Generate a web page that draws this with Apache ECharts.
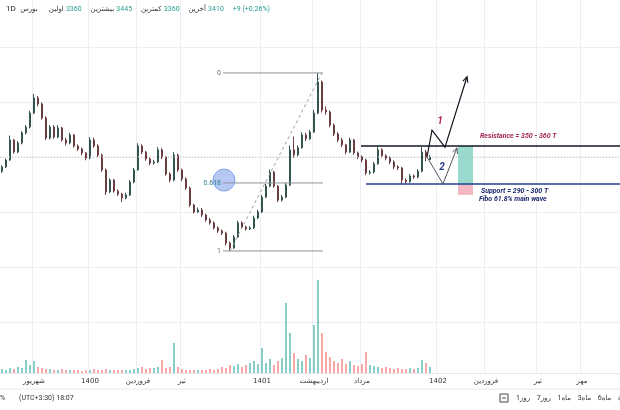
<!DOCTYPE html>
<html><head><meta charset="utf-8">
<script src="https://cdn.jsdelivr.net/npm/echarts@6/dist/echarts.min.js"></script>
<style>html,body{margin:0;padding:0;background:#fff}#c{width:620px;height:410px}</style>
</head><body><div id="c"></div>
<script>
// ---- data ----
// daily candles [open, close, low, high] (rial)
const candles = [
[3150,3230,3120,3260],[3230,3355,3210,3380],[3355,3720,3340,3800],[3720,3500,3470,3740],[3500,3665,3480,3700],
[3665,3850,3640,3880],[3850,3955,3820,3990],[3955,4210,3930,4250],[4210,4485,4190,4560],[4485,4375,4330,4520],
[4375,4120,4090,4400],[4120,3755,3720,4150],[3755,3955,3730,3990],[3955,3775,3740,3990],[3775,3940,3750,3990],
[3940,3720,3690,3960],[3720,3665,3620,3760],[3665,3810,3640,3850],[3810,3610,3580,3830],[3610,3555,3520,3640],
[3555,3485,3440,3580],[3485,3390,3350,3500],[3390,3720,3370,3775],[3720,3610,3580,3760],[3610,3445,3410,3640],
[3445,3175,3140,3470],[3175,2775,2720,3200],[2775,2990,2750,3020],[2990,2790,2760,3010],[2790,2735,2700,2820],
[2735,2665,2590,2760],[2665,2720,2640,2760],[2720,2955,2700,2990],[2955,3175,2930,3210],[3175,3610,3160,3660],
[3610,3500,3460,3640],[3500,3375,3340,3520],[3375,3300,3260,3400],[3300,3320,3270,3360],[3320,3540,3300,3590],
[3540,3410,3370,3570],[3410,3100,3070,3430],[3100,2990,2950,3130],[2990,3445,2970,3500],[3445,3175,3140,3470],
[3175,3010,2970,3200],[3010,2845,2810,3040],[2845,2535,2500,2870],[2535,2410,2380,2560],[2410,2445,2390,2490],
[2445,2355,2320,2480],[2355,2265,2230,2380],[2265,2210,2180,2300],[2210,2120,2090,2240],[2120,2065,2030,2150],
[2065,2025,1990,2090],[2025,1845,1800,2050],[1845,1755,1700,1870],[1755,1955,1740,1990],[1955,2210,1940,2250],
[2210,2135,2100,2240],[2135,2100,2070,2160],[2100,2120,2080,2150],[2120,2300,2100,2340],[2300,2410,2280,2450],
[2410,2680,2390,2720],[2680,2880,2660,2920],[2880,3135,2860,3180],[3135,2880,2850,3160],[2880,2625,2590,2900],
[2625,2680,2600,2720],[2680,2900,2660,2940],[2900,3540,2880,3620],[3540,3450,3400,3780],[3450,3580,3420,3620],
[3580,3810,3560,3860],[3810,3740,3700,3850],[3740,3865,3720,3900],[3865,4210,3850,4270],[4210,4775,4190,4940],
[4775,4265,4220,4800],[4265,4230,4180,4330],[4230,3990,3950,4260],[3990,3830,3790,4020],[3830,3720,3680,3860],
[3720,3630,3590,3760],[3630,3500,3460,3650],[3500,3720,3480,3760],[3720,3485,3450,3740],[3485,3410,3370,3510],
[3410,3355,3310,3440],[3355,3120,3080,3380],[3120,3135,3090,3170],[3135,3285,3110,3320],[3285,3540,3270,3590],
[3540,3430,3400,3570],[3430,3390,3350,3460],[3390,3320,3280,3420],[3320,3230,3190,3350],[3230,3210,3170,3260],
[3210,2990,2920,3230],[2990,2960,2930,3020],[2960,3065,2940,3100],[3065,3045,3010,3090],[3045,3150,3020,3190],
[3150,3500,3130,3590],[3500,3401,3330,3540],[3360,3410,3360,3445]
];
// volume (relative units)
const volumes = [
40,30,50,40,60,50,130,80,120,60, 50,40,40,30,30,40,30,30,30,30,
20,30,30,40,30,30,40,30,30,30, 30,30,30,40,50,60,40,50,50,60,
130,50,60,300,60,40,30,30,30,30, 30,30,40,30,40,60,50,80,70,90,
60,80,100,120,90,250,100,140,80,120, 150,700,400,200,140,120,180,150,480,930,
400,210,160,120,100,140,90,120,80,70, 90,210,80,70,60,50,60,50,40,50,
40,40,50,40,50,130,100,60
];
const slotCount = 155; // time slots incl. empty future area
// time-axis labels (slot index -> text)
const tickLabels = {8:'شهریور',22:'1400',34:'فروردین',45:'تیر',65:'1401',78:'اردیبهشت',90:'مرداد',109:'1402',121:'فروردین',134:'تیر',145:'مهر'};
// header values
const header = {first:'3360', high:'3445', low:'3360', last:'3410', change:'+9 (+0.26%)'};
// range buttons [number, unit]
const ranges = [['1','روز'],['7','روز'],['1','ماه'],['3','ماه'],['6','ماه']];
// drawing levels
const lastPrice = 3410;
const resistance = 3610, support = 2920;
const fibHigh = 4940, fibLow = 1700;
const fibLevels = [0, 0.618, 1];
const fibSpan = [55.75, 80.75];
const trendLine = [[57.5, 1700], [80.5, 4940]];
const path1 = [[106.75,3410],[108,3900],[111.25,3590],[116.75,4870]];
const path2 = [[106.75,3410],[110.75,2920],[114.25,3575]];
const rrBox = {x0:114.5, x1:118.25, top:3610, mid:2900, bottom:2720};
const circleAt = [56, 2990];
const resStart = 90.25, supStart = 91.5;

const cats = Array.from({length: slotCount}, (_, i) => String(i));
const FONT = 'Roboto, "DejaVu Sans", sans-serif';
const AFONT = '"DejaVu Sans", Roboto, sans-serif';

const chart = echarts.init(document.getElementById('c'), null, {renderer: 'canvas'});
const isTick = (i) => tickLabels[i] !== undefined;

const volData = volumes.map((v, i) => ({
  value: v,
  itemStyle: {color: candles[i][1] >= candles[i][0] ? 'rgba(38,166,154,0.55)' : 'rgba(239,83,80,0.5)'}
}));

chart.setOption({
  animation: false,
  textStyle: {fontFamily: FONT},
  grid: [
    {left: 0, right: 0, top: 0, height: 373},
    {left: 0, right: 0, top: 280, height: 93},
    {left: 0, right: 0, top: 47, height: 326}
  ],
  xAxis: [
    {type: 'category', gridIndex: 0, data: cats, boundaryGap: true,
      axisLine: {show: false}, axisTick: {show: false}, axisLabel: {show: false},
      splitLine: {show: true, interval: (i) => isTick(i), lineStyle: {color: '#eceef2', width: 1}}},
    {type: 'value', gridIndex: 0, min: 0, max: slotCount, show: false},
    {type: 'category', gridIndex: 1, data: cats, boundaryGap: true,
      axisLine: {show: true, lineStyle: {color: '#e4e6eb'}}, axisTick: {show: false},
      axisLabel: {show: true, interval: (i) => isTick(i), formatter: (v, i) => tickLabels[i] || '',
        fontSize: 7, color: '#333', margin: 5, fontFamily: AFONT},
      splitLine: {show: false}},
    {type: 'value', gridIndex: 2, min: 0, max: 1, show: false}
  ],
  yAxis: [
    {type: 'value', gridIndex: 0, min: -521.2, max: 6267.4, show: false, splitLine: {show: false}},
    {type: 'value', gridIndex: 1, min: 0, max: 930, show: false, splitLine: {show: false}},
    {type: 'value', gridIndex: 2, min: 0, max: 326 / 55, interval: 1, inverse: true,
      axisLine: {show: false}, axisTick: {show: false}, axisLabel: {show: false},
      splitLine: {show: true, lineStyle: {color: '#eceef2', width: 1}}}
  ],
  series: [
    {type: 'bar', name: 'vol', xAxisIndex: 2, yAxisIndex: 1, data: volData, barWidth: 2, z: 2},
    {type: 'candlestick', name: 'price', xAxisIndex: 0, yAxisIndex: 0, data: candles, barWidth: 2.4, z: 3,
      itemStyle: {color: '#2e9c8f', color0: '#e0575a', borderColor: '#34554f', borderColor0: '#6b3e42', borderWidth: 1}}
  ]
});

function P(x, p) { return chart.convertToPixel({xAxisIndex: 1, yAxisIndex: 0}, [x, p]); }
const g = [];
function line(a, b, stroke, w, dash) {
  g.push({type: 'line', silent: true, z: 10, shape: {x1: a[0], y1: a[1], x2: b[0], y2: b[1]},
    style: {stroke: stroke, lineWidth: w, lineDash: dash || null}});
}
function text(x, y, t, fill, font, align, vAlign) {
  g.push({type: 'text', silent: true, z: 12, x: x, y: y,
    style: {text: t, fill: fill, font: font, textAlign: align || 'left', textVerticalAlign: vAlign || 'middle'}});
}
function arrowPath(pts, stroke, w) {
  const px = pts.map(p => P(p[0], p[1]));
  g.push({type: 'polyline', silent: true, z: 11, shape: {points: px}, style: {stroke: stroke, lineWidth: w, fill: null}});
  const a = px[px.length - 2], b = px[px.length - 1];
  const ang = Math.atan2(b[1] - a[1], b[0] - a[0]);
  const L = 6, s = 0.45;
  const l1 = [b[0] - L * Math.cos(ang - s), b[1] - L * Math.sin(ang - s)];
  const l2 = [b[0] - L * Math.cos(ang + s), b[1] - L * Math.sin(ang + s)];
  g.push({type: 'polyline', silent: true, z: 11, shape: {points: [l1, b, l2]}, style: {stroke: stroke, lineWidth: w, fill: null}});
}

// current price dotted line
const yl = P(0, lastPrice)[1];
line([0, yl], [620, yl], '#c3c6cc', 1, [1, 2]);

// fib retracement
fibLevels.forEach(f => {
  const price = fibHigh - f * (fibHigh - fibLow);
  const a = P(fibSpan[0], price), b = P(fibSpan[1], price);
  line(a, b, '#8f929b', 1);
  text(a[0] - 2, a[1], String(f), f === 0.618 ? '#2a7f86' : '#6a6d76', '7px ' + FONT, 'right');
});
line(P(trendLine[0][0], trendLine[0][1]), P(trendLine[1][0], trendLine[1][1]), '#9a9da5', 1, [3, 3]);
const cc = P(circleAt[0], circleAt[1]);
g.push({type: 'circle', silent: true, z: 9, shape: {cx: cc[0], cy: cc[1], r: 11},
  style: {fill: 'rgba(90,135,230,0.45)', stroke: 'rgba(80,125,225,0.6)', lineWidth: 1}});

// support / resistance
line(P(resStart, resistance), P(slotCount, resistance), '#131722', 1.5);
line(P(supStart, support), P(slotCount, support), '#233f91', 1.5);

// risk/reward box
const r0 = P(rrBox.x0, rrBox.top), r1 = P(rrBox.x1, rrBox.mid), r2 = P(rrBox.x1, rrBox.bottom);
g.push({type: 'rect', silent: true, z: 8, shape: {x: r0[0], y: r0[1], width: r1[0] - r0[0], height: r1[1] - r0[1]},
  style: {fill: 'rgba(120,205,190,0.75)'}});
g.push({type: 'rect', silent: true, z: 8, shape: {x: r0[0], y: r1[1], width: r1[0] - r0[0], height: r2[1] - r1[1]},
  style: {fill: 'rgba(242,160,175,0.75)'}});

// scenario paths
arrowPath(path2, '#50535e', 1);
arrowPath(path1, '#131722', 1.2);
let t = P(110, 4050); text(t[0], t[1], '1', '#b0245a', 'italic bold 10px ' + FONT, 'center');
t = P(110.5, 3210); text(t[0], t[1], '2', '#2a3a8c', 'italic bold 10px ' + FONT, 'center');

// notes
t = P(120, 3790); text(t[0], t[1], 'Resistance = 350 - 360 T', '#a3265a', 'italic bold 7px ' + FONT, 'left');
t = P(120.25, 2790); text(t[0], t[1], 'Support = 290 - 300 T', '#1c2a6e', 'italic bold 7px ' + FONT, 'left');
t = P(119.75, 2645); text(t[0], t[1], 'Fibo 61.8% main wave', '#1c2a6e', 'italic bold 7px ' + FONT, 'left');

// header legend
g.push({type: 'text', silent: true, z: 12, x: 6, y: 9, style: {
  text: '{d|1D}  {l|بورس}     {l|اولین} {n|' + header.first + '}    {l|بیشترین} {n|' + header.high + '}    {l|کمترین} {n|' +
        header.low + '}    {l|آخرین} {n|' + header.last + '}    {n|' + header.change + '}',
  font: '7px ' + AFONT, fill: '#333', textVerticalAlign: 'middle',
  rich: {d: {font: '8px ' + FONT, fill: '#222'}, l: {font: '7px ' + AFONT, fill: '#333'}, n: {font: '7px ' + FONT, fill: '#2a9d8f'}}
}});

// bottom toolbar
g.push({type: 'line', silent: true, z: 1, shape: {x1: 0, y1: 389, x2: 620, y2: 389}, style: {stroke: '#e6e8ec', lineWidth: 1}});
text(0, 398, '%', '#333', '7px ' + FONT, 'left');
text(19, 398, '(UTC+3:30) 18:07', '#333', '7px ' + FONT, 'left');
g.push({type: 'rect', silent: true, z: 12, shape: {x: 500, y: 394, width: 8, height: 8}, style: {fill: null, stroke: '#444', lineWidth: 1}});
g.push({type: 'line', silent: true, z: 12, shape: {x1: 502, y1: 398, x2: 506, y2: 398}, style: {stroke: '#444', lineWidth: 1}});
g.push({type: 'text', silent: true, z: 12, x: 516, y: 398, style: {
  text: ranges.map(r => '{n|' + r[0] + '}{w|' + r[1] + '}').join('   ') + '   {w|ة}',
  font: '7px ' + AFONT, fill: '#333', textVerticalAlign: 'middle',
  rich: {n: {font: '7px ' + FONT, fill: '#333'}, w: {font: '7px ' + AFONT, fill: '#333'}}
}});

chart.setOption({graphic: g});
</script></body></html>
